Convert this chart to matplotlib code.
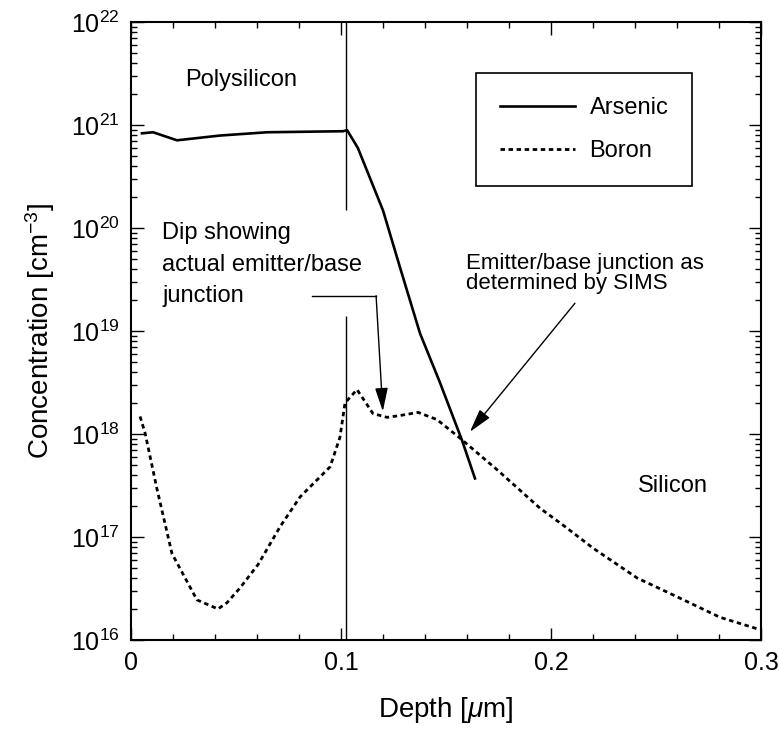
import matplotlib
matplotlib.use("Agg")
import matplotlib.pyplot as plt
from matplotlib.ticker import FixedLocator, MultipleLocator, NullFormatter, LogLocator

plt.rcParams["font.family"] = ["Liberation Sans", "DejaVu Sans"]
plt.rcParams["mathtext.fontset"] = "custom"
plt.rcParams["mathtext.rm"] = "Liberation Sans"
plt.rcParams["mathtext.it"] = "Liberation Sans:italic"

# SIMS profiles (depth in um, concentration in cm^-3)
arsenic_depth = [0.0052, 0.0105, 0.0219, 0.0424, 0.0648, 0.101, 0.1029,
                 0.108, 0.120, 0.128, 0.1376, 0.147, 0.1576, 0.1638]
arsenic_conc = [8.3e20, 8.5e20, 7.1e20, 7.9e20, 8.5e20, 8.7e20, 8.9e20,
                6.0e20, 1.48e20, 4.2e19, 9.5e18, 3.2e18, 8.7e17, 3.7e17]

boron_depth = [0.0043, 0.0067, 0.0124, 0.0195, 0.0314, 0.0414, 0.0457,
               0.0519, 0.0605, 0.071, 0.0805, 0.0948, 0.0995, 0.1019,
               0.1076, 0.1152, 0.1219, 0.128, 0.1367, 0.1457, 0.1567,
               0.1743, 0.1948, 0.2067, 0.22, 0.241, 0.261, 0.2805, 0.2995]
boron_conc = [1.48e18, 1.02e18, 2.9e17, 6.9e16, 2.45e16, 2.0e16, 2.3e16,
              3.2e16, 5.4e16, 1.26e17, 2.45e17, 4.8e17, 9.3e17, 2.0e18,
              2.7e18, 1.58e18, 1.45e18, 1.51e18, 1.62e18, 1.38e18, 9.1e17,
              4.5e17, 1.9e17, 1.26e17, 7.8e16, 4.0e16, 2.57e16, 1.66e16, 1.26e16]

x_ticks = [0, 0.1, 0.2, 0.3]
x_tick_labels = ["0", "0.1", "0.2", "0.3"]
y_ticks = [1e16, 1e17, 1e18, 1e19, 1e20, 1e21, 1e22]

# poly/mono interface
interface_depth = 0.1024

fig = plt.figure(figsize=(7.79, 7.33), dpi=100)
ax = fig.add_axes([0.1682, 0.1269, 0.8087, 0.8431])

ax.plot(arsenic_depth, arsenic_conc, color="black", lw=1.9, label="Arsenic")
ax.plot(boron_depth, boron_conc, color="black", lw=2.0,
        linestyle=(0, (1.6, 1.3)), label="Boron")

# interface marker, broken where the annotation text sits
ax.vlines(interface_depth, 1.5e20, 1e22, color="black", lw=1.0)
ax.vlines(interface_depth, 1e16, 1.4e19, color="black", lw=1.0)

ax.set_yscale("log")
ax.set_xlim(0, 0.3)
ax.set_ylim(1e16, 1e22)

ax.set_xticks(x_ticks)
ax.set_xticklabels(x_tick_labels)
ax.xaxis.set_minor_locator(MultipleLocator(0.02))
ax.yaxis.set_major_locator(FixedLocator(y_ticks))
ax.set_yticklabels([r"$10^{%d}$" % e for e in range(16, 23)])
ax.yaxis.set_minor_locator(LogLocator(base=10, subs=range(2, 10), numticks=10))
ax.yaxis.set_minor_formatter(NullFormatter())

ax.tick_params(which="both", direction="in", top=True, right=True,
               labelsize=18, width=1.0)
ax.tick_params(which="major", length=9, pad=8)
ax.tick_params(which="minor", length=4.5)
for sp in ax.spines.values():
    sp.set_linewidth(1.5)

ax.set_xlabel(r"Depth [$\mu$m]", fontsize=20, labelpad=14)
ax.set_ylabel(r"Concentration [cm$^{-3}$]", fontsize=20, labelpad=10)

ax.text(0.0257, 2.75e21, "Polysilicon", fontsize=17, va="center", ha="left")
ax.text(0.2414, 3.1e17, "Silicon", fontsize=17, va="center", ha="left")
ax.text(0.0148, 4.4e19, "Dip showing\nactual emitter/base\njunction",
        fontsize=17, va="center", ha="left", linespacing=1.55)
ax.text(0.1595, 3.6e19, "Emitter/base junction as\ndetermined by SIMS",
        fontsize=16, va="center", ha="left", linespacing=0.95)

# elbow arrow pointing at the boron dip
ax.plot([0.0862, 0.1167], [2.2e19, 2.2e19], color="black", lw=1.0)
ax.annotate("", xy=(0.1199, 1.66e18), xytext=(0.1167, 2.2e19),
            arrowprops=dict(arrowstyle="-|>,head_length=0.8,head_width=0.22",
                            mutation_scale=18, lw=1.0, color="black",
                            shrinkA=0, shrinkB=0))
# arrow to the arsenic/boron crossing
ax.annotate("", xy=(0.1614, 1.05e18), xytext=(0.2114, 1.86e19),
            arrowprops=dict(arrowstyle="-|>,head_length=0.8,head_width=0.22",
                            mutation_scale=18, lw=1.0, color="black",
                            shrinkA=0, shrinkB=0))

leg = ax.legend(loc="upper left", bbox_to_anchor=(0.548, 0.917), fontsize=17,
                handlelength=3.2, handletextpad=0.6, labelspacing=0.9,
                borderpad=1.0, fancybox=False, framealpha=1, borderaxespad=0)
leg.get_frame().set_edgecolor("black")
leg.get_frame().set_linewidth(1.2)

fig.savefig("out.png", dpi=100)
